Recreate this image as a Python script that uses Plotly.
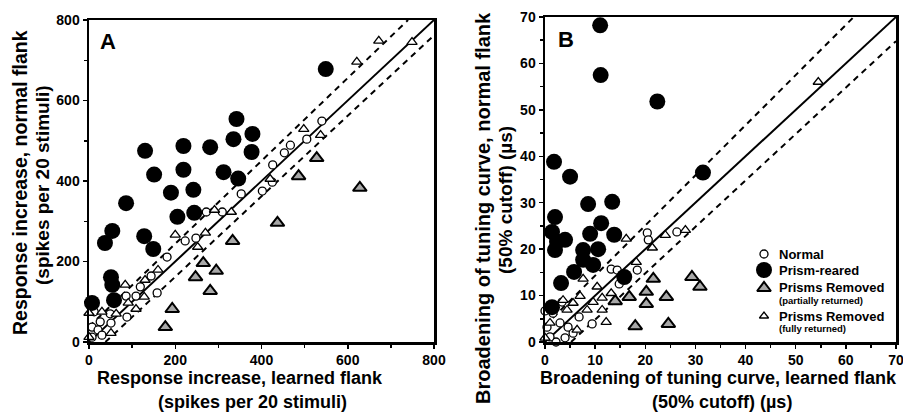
import plotly.graph_objects as go

# ---------------- Panel A data (spikes per 20 stimuli) ----------------
a_prism_x = [549, 342, 379, 335, 377, 130, 219, 281, 151, 219, 312, 346, 190, 242, 86, 205, 244, 54, 37, 128, 149, 51, 54, 58, 7]
a_prism_y = [678, 554, 517, 504, 472, 475, 487, 484, 416, 428, 422, 406, 371, 378, 345, 311, 321, 276, 246, 263, 231, 161, 142, 104, 97]

a_normal_x = [540, 505, 467, 453, 426, 425, 353, 402, 272, 309, 223, 248, 181, 144, 119, 158, 109, 86, 88, 49, 12, 26, 51, 7, 21, 30, 7]
a_normal_y = [549, 504, 489, 470, 440, 397, 368, 375, 323, 323, 251, 258, 211, 164, 137, 122, 114, 114, 62, 70, 75, 50, 47, 37, 30, 17, 12]

a_partial_x = [528, 486, 628, 437, 333, 265, 295, 247, 281, 193, 177]
a_partial_y = [457, 412, 383, 296, 251, 196, 177, 161, 127, 82, 37]

a_full_x = [672, 749, 621, 498, 537, 420, 291, 330, 200, 270, 252, 160, 130, 128, 84, 91, 109, 63, 51, 30, 0, 0]
a_full_y = [748, 745, 696, 529, 514, 405, 328, 323, 266, 271, 236, 179, 154, 112, 142, 97, 82, 70, 22, 75, 72, 12]

# ---------------- Panel B data (50% cutoff, us) ----------------
b_prism_x = [11.0, 11.1, 22.4, 1.8, 5.0, 31.5, 8.6, 13.4, 2.0, 11.2, 9.0, 13.8, 1.4, 4.0, 2.4, 2.0, 7.6, 10.6, 7.6, 9.6, 5.8, 15.8, 3.2, 1.4]
b_prism_y = [68.2, 57.5, 51.8, 38.8, 35.6, 36.5, 29.7, 30.2, 26.9, 25.6, 23.3, 23.1, 23.7, 22.0, 21.6, 19.8, 19.8, 20.0, 17.7, 16.6, 15.1, 14.0, 12.7, 7.5]

b_normal_x = [20.4, 20.6, 26.3, 13.2, 14.4, 18.4, 14.8, 0.0, 3.4, 6.8, 9.4, 2.2, 1.6, 3.0, 4.6, 5.6, 1.0, 4.0, 0.4]
b_normal_y = [23.5, 22.0, 23.7, 15.7, 15.5, 15.5, 12.5, 6.7, 8.6, 5.4, 3.9, 0.0, 6.2, 4.1, 3.2, 1.9, 1.1, 0.9, 3.2]

b_partial_x = [21.6, 29.3, 30.9, 20.2, 16.8, 24.2, 20.2, 14.0, 18.0, 24.6]
b_partial_y = [13.6, 14.0, 11.9, 10.8, 9.7, 9.7, 8.2, 8.8, 3.4, 3.9]

b_full_x = [54.5, 16.2, 24.0, 28.0, 21.4, 18.2, 7.6, 10.4, 13.2, 7.0, 11.4, 12.2, 9.6, 8.4, 5.6, 4.4, 3.6, 1.0, 0.0, 6.4, 11.4]
b_full_y = [56.0, 22.2, 23.0, 24.1, 20.3, 17.2, 13.6, 11.9, 10.5, 9.9, 9.5, 4.3, 8.6, 6.9, 8.4, 6.9, 9.0, 4.1, 0.9, 2.6, 6.9]

# reference lines: identity and dashed band (offset, slope)
a_max = 800
a_upper = (38, 1.03)
a_lower = (-38, 1.0)
b_max = 70
b_upper = (3.5, 1.08)
b_lower = (-5.2, 1.0)

a_ticks = [0, 200, 400, 600, 800]
b_ticks = [0, 10, 20, 30, 40, 50, 60, 70]

legend_labels = ["Normal", "Prism-reared", "Prisms Removed", "Prisms Removed"]
legend_sublabels = ["", "", "(partially returned)", "(fully returned)"]

FONT = "Liberation Sans Narrow, Arial Narrow, Liberation Sans, Arial, sans-serif"
FONT_W = "Liberation Sans, Arial, sans-serif"

STY_NORMAL = dict(symbol="circle", size=8, color="white", line=dict(color="black", width=1.3))
STY_PRISM = dict(symbol="circle", size=16, color="black", line=dict(color="black", width=0))
STY_PART = dict(symbol="triangle-up", size=12, color="#a8a8a8", line=dict(color="black", width=2))
STY_FULL = dict(symbol="triangle-up", size=9, color="white", line=dict(color="black", width=1.3))

fig = go.Figure()

def add_sets(xa, ya, prism, normal, partial, full):
    common = dict(mode="markers", xaxis=xa, yaxis=ya, cliponaxis=False, showlegend=False, hoverinfo="skip")
    fig.add_trace(go.Scatter(x=normal[0], y=normal[1], name="Normal", marker=STY_NORMAL, **common))
    fig.add_trace(go.Scatter(x=prism[0], y=prism[1], name="Prism-reared", marker=STY_PRISM, **common))
    fig.add_trace(go.Scatter(x=partial[0], y=partial[1], name="Prisms Removed (partially returned)", marker=STY_PART, **common))
    fig.add_trace(go.Scatter(x=full[0], y=full[1], name="Prisms Removed (fully returned)", marker=STY_FULL, **common))

def add_lines(xa, ya, mx, up, lo):
    fig.add_trace(go.Scatter(x=[0, mx], y=[0, mx], mode="lines", xaxis=xa, yaxis=ya, showlegend=False,
                             line=dict(color="black", width=2), hoverinfo="skip"))
    x_up_end = (mx - up[0]) / up[1]
    fig.add_trace(go.Scatter(x=[0, x_up_end], y=[up[0], mx], mode="lines", xaxis=xa, yaxis=ya, showlegend=False,
                             line=dict(color="black", width=2, dash="6px,5px"), hoverinfo="skip"))
    fig.add_trace(go.Scatter(x=[-lo[0], mx], y=[0, mx * lo[1] + lo[0]], mode="lines", xaxis=xa, yaxis=ya, showlegend=False,
                             line=dict(color="black", width=2, dash="6px,5px"), hoverinfo="skip"))

add_lines("x", "y", a_max, a_upper, a_lower)
add_lines("x2", "y2", b_max, b_upper, b_lower)
add_sets("x", "y", (a_prism_x, a_prism_y), (a_normal_x, a_normal_y), (a_partial_x, a_partial_y), (a_full_x, a_full_y))
add_sets("x2", "y2", (b_prism_x, b_prism_y), (b_normal_x, b_normal_y), (b_partial_x, b_partial_y), (b_full_x, b_full_y))

W, H = 903, 416
def px(v): return v / W
def py(v): return 1 - v / H

# custom key (pixel-space overlay axis)
key_x = 764
key_rows = [254, 270, 288, 316]
key_styles = [STY_NORMAL, dict(STY_PRISM, size=16), STY_PART, dict(STY_FULL, size=8)]
for yy, sty, lab in zip(key_rows, key_styles, legend_labels):
    fig.add_trace(go.Scatter(x=[key_x], y=[yy], mode="markers", xaxis="x3", yaxis="y3", showlegend=False,
                             hoverinfo="skip", cliponaxis=False, marker=sty))

axis_common = dict(showgrid=False, zeroline=False, showline=True, linecolor="black", linewidth=2.5,
                   mirror=True, ticks="outside", ticklen=4, tickwidth=1.5, tickcolor="black",
                   tickfont=dict(family=FONT, size=14, color="black", weight="bold"),
                   ticklabeloverflow="allow",
                   fixedrange=True, automargin=False)

fig.update_layout(
    width=W, height=H, margin=dict(l=0, r=0, t=0, b=0, autoexpand=False),
    paper_bgcolor="white", plot_bgcolor="rgba(0,0,0,0)", showlegend=False,
    xaxis=dict(domain=[px(89), px(434)], range=[0, a_max], tickvals=a_ticks, anchor="y",
               minor=dict(dtick=100, ticks="outside", ticklen=3, tickcolor="black"), **axis_common),
    yaxis=dict(domain=[py(342), py(20)], range=[0, a_max], tickvals=a_ticks, anchor="x",
               minor=dict(dtick=100, ticks="outside", ticklen=3, tickcolor="black"), **axis_common),
    xaxis2=dict(domain=[px(545), px(896)], range=[0, b_max], tickvals=b_ticks, anchor="y2",
                minor=dict(dtick=5, ticks="outside", ticklen=3, tickcolor="black"), **axis_common),
    yaxis2=dict(domain=[py(342), py(17)], range=[0, b_max], tickvals=b_ticks, anchor="x2",
                minor=dict(dtick=5, ticks="outside", ticklen=3, tickcolor="black"), **axis_common),
    xaxis3=dict(domain=[0, 1], range=[0, W], visible=False, fixedrange=True, anchor="y3"),
    yaxis3=dict(domain=[0, 1], range=[H, 0], visible=False, fixedrange=True, anchor="x3"),
)

def ann(x, y, text, size, angle=0, family=FONT, weight="bold", xanchor="center"):
    fig.add_annotation(x=px(x), y=py(y), xref="paper", yref="paper", text=text, showarrow=False,
                       textangle=angle, xanchor=xanchor, yanchor="middle",
                       font=dict(family=family, size=size, color="black", weight=weight))

# key texts
key_text_rows = [254, 270, 287, 316]
key_sub_rows = [None, None, 300, 328]
for yy, sy, lab, sub in zip(key_text_rows, key_sub_rows, legend_labels, legend_sublabels):
    ann(777, yy, lab, 13, family=FONT_W, xanchor="left")
    if sub:
        ann(777, sy, sub, 9.5, family=FONT_W, xanchor="left")

ann(108, 42, "A", 22, family=FONT_W)
ann(566, 39, "B", 22, family=FONT_W)
ann(240, 378, "Response increase, learned flank", 18)
ann(252, 402, "(spikes per 20 stimuli)", 18)
ann(718, 378, "Broadening of tuning curve, learned flank", 18)
ann(722, 402, "(50% cutoff) (\u00b5s)", 18)
ann(20, 183, "Response increase, normal flank", 19.5, angle=-90, family=FONT_W)
ann(42, 185, "(spikes per 20 stimuli)", 19, angle=-90, family=FONT_W)
ann(483, 208, "Broadening of tuning curve, normal flank", 20, angle=-90, family=FONT_W)
ann(505, 200, "(50% cutoff) (\u00b5s)", 19, angle=-90, family=FONT_W)

fig.write_html("out.html", config={"displayModeBar": False, "staticPlot": True},
               post_script="document.body.style.margin='0';document.body.style.overflow='hidden';")
